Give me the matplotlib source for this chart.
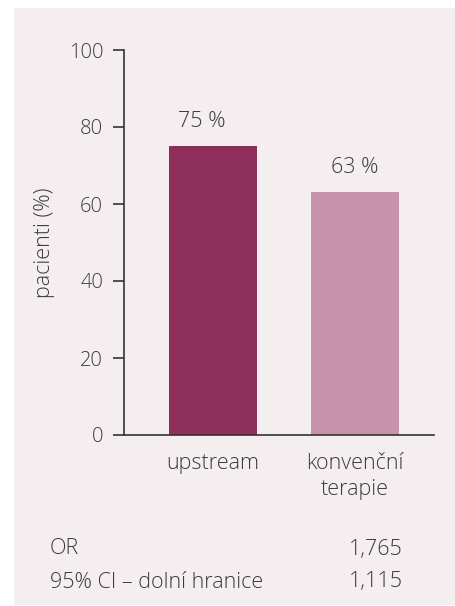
import matplotlib
matplotlib.use('Agg')
import matplotlib.pyplot as plt
import matplotlib.patches as mpatches

# ---------------------------------------------------------------------------
# Data
# ---------------------------------------------------------------------------
categories = ['upstream', 'konvenční\nterapie']
values = [75, 63]
barColors = ['#8e2f5b', '#c793aa']
yTicks = [0, 20, 40, 60, 80, 100]
statLabels = ['OR', '95% CI – dolní hranice']
statValues = ['1,765', '1,115']

W, H = 456, 606
textColor = '#3c3a3b'
fs = 15.5
plt.rcParams['font.family'] = ['Open Sans', 'DejaVu Sans']
plt.rcParams['font.weight'] = 'light'
plt.rcParams['axes.labelweight'] = 'light'

fig = plt.figure(figsize=(W / 100, H / 100), dpi=100, facecolor='white')

# light panel behind everything
fig.patches.append(mpatches.Rectangle((14 / W, 1 - 605 / H), (W - 14) / W, (605 - 8) / H,
                                      transform=fig.transFigure, facecolor='#f4eef1',
                                      edgecolor='none', zorder=-10))

ax = fig.add_axes([124 / W, 1 - 435 / H, (434 - 124) / W, (435 - 50) / H])
ax.set_facecolor('none')

xs = list(range(len(categories)))
ax.bar(xs, values, width=0.62, color=barColors, zorder=2)
for x, v in zip(xs, values):
    ax.text(x - 0.08 if x == 0 else x, v + 3.8, f'{v} %', ha='center', va='bottom',
            fontsize=fs, color=textColor)

ax.set_xlim(-0.627, 1.556)
ax.set_ylim(0, 100)
ax.set_yticks(yTicks)
ax.set_xticks(xs)
ax.set_xticklabels(categories, fontsize=fs, color=textColor, linespacing=1.3)
ax.tick_params(axis='x', length=0, pad=13)
ax.tick_params(axis='y', length=8, width=1.2, color='#333333', labelsize=14.5,
               labelcolor=textColor, pad=7)
for s in ['top', 'right']:
    ax.spines[s].set_visible(False)
for s in ['left', 'bottom']:
    ax.spines[s].set_color('#333333')
    ax.spines[s].set_linewidth(1.2)
ax.set_ylabel('pacienti (%)', fontsize=fs, color=textColor, labelpad=10, fontweight='light')

for i, (lab, val) in enumerate(zip(statLabels, statValues)):
    y = 1 - (549 + 33 * i) / H
    fig.text(50 / W, y, lab, ha='left', va='center', fontsize=fs, color=textColor)
    fig.text(403 / W, y, val, ha='right', va='center', fontsize=fs, color=textColor)

fig.savefig('out.png', dpi=100, facecolor='white')
